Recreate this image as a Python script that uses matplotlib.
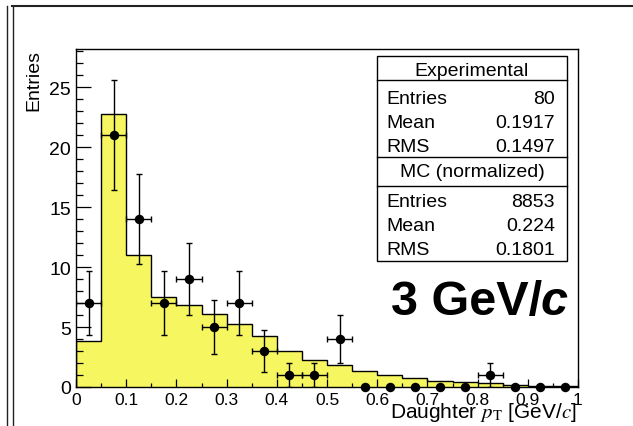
import numpy as np
import matplotlib
matplotlib.use('Agg')
import matplotlib.pyplot as plt
from matplotlib.patches import Rectangle
from matplotlib.lines import Line2D
from matplotlib.ticker import MultipleLocator, FixedLocator

plt.rcParams['font.family'] = ['Liberation Sans', 'DejaVu Sans']
plt.rcParams['mathtext.fontset'] = 'stix'

# ---------------- data ----------------
bin_edges = [0.00, 0.05, 0.10, 0.15, 0.20, 0.25, 0.30, 0.35, 0.40, 0.45, 0.50,
             0.55, 0.60, 0.65, 0.70, 0.75, 0.80, 0.85, 0.90, 0.95, 1.00]
bin_centers = [0.025, 0.075, 0.125, 0.175, 0.225, 0.275, 0.325, 0.375, 0.425, 0.475,
               0.525, 0.575, 0.625, 0.675, 0.725, 0.775, 0.825, 0.875, 0.925, 0.975]
mc_values = [3.85, 22.75, 11.0, 7.5, 6.85, 6.1, 5.25, 4.25, 3.0, 2.25,
             1.8, 1.3, 1.0, 0.72, 0.53, 0.42, 0.3, 0.18, 0.1, 0.06]
data_counts = [7, 21, 14, 7, 9, 5, 7, 3, 1, 1,
               4, 0, 0, 0, 0, 0, 1, 0, 0, 0]

x_tick_values = [0.0, 0.1, 0.2, 0.3, 0.4, 0.5, 0.6, 0.7, 0.8, 0.9, 1.0]
x_tick_labels = ['0', '0.1', '0.2', '0.3', '0.4', '0.5', '0.6', '0.7', '0.8', '0.9', '1']
y_tick_values = [0, 5, 10, 15, 20, 25]
y_tick_labels = ['0', '5', '10', '15', '20', '25']

exp_title = 'Experimental'
exp_stats = [('Entries', '80'), ('Mean', '0.1917'), ('RMS', '0.1497')]
mc_title = 'MC (normalized)'
mc_stats = [('Entries', '8853'), ('Mean', '0.224'), ('RMS', '0.1801')]
energy_label = '3 GeV/'
energy_unit = 'c'

# ---------------- layout helpers ----------------
W, H = 633, 427
def fx(px):
    return px / W
def fy(py):
    return 1 - py / H

fig = plt.figure(figsize=(W / 100, H / 100), dpi=100)
ax = fig.add_axes([fx(76), fy(388), fx(578) - fx(76), fy(50) - fy(388)])

fill_color = '#f6f660'
ax.stairs(mc_values, bin_edges, fill=True, facecolor=fill_color, edgecolor='none', zorder=1)
ax.stairs(mc_values, bin_edges, color='black', linewidth=1.0, zorder=2)

centers = np.array(bin_centers)
counts = np.array(data_counts, dtype=float)
nz = counts > 0
ax.errorbar(centers[nz], counts[nz], xerr=0.025, yerr=np.sqrt(counts[nz]),
            fmt='o', color='black', ms=5.8, elinewidth=1.0, capsize=2.0,
            capthick=1.0, zorder=4)
ax.plot(centers[~nz], counts[~nz], 'o', color='black', ms=5.8, clip_on=False, zorder=5)

ax.set_xlim(0, 1)
ax.set_ylim(0, 28.17)
ax.xaxis.set_major_locator(FixedLocator(x_tick_values))
ax.set_xticklabels(x_tick_labels)
ax.xaxis.set_minor_locator(MultipleLocator(0.05))
ax.yaxis.set_major_locator(FixedLocator(y_tick_values))
ax.set_yticklabels(y_tick_labels)
ax.yaxis.set_minor_locator(MultipleLocator(1))

ax.tick_params(axis='y', which='major', direction='in', length=10.8, width=0.9,
               labelsize=14, pad=3.5, right=False)
ax.tick_params(axis='y', which='minor', direction='in', length=5.3, width=0.9, right=False)
ax.tick_params(axis='x', which='major', direction='in', length=5.8, width=0.9,
               labelsize=12.5, pad=3.5, top=False)
ax.tick_params(axis='x', which='minor', direction='in', length=2.9, width=0.9, top=False)
for s in ax.spines.values():
    s.set_linewidth(1.0)

# axis titles
fig.text(fx(34), fy(50), 'Entries', rotation=90, ha='center', va='top', fontsize=14)
fig.text(fx(577), fy(418), r'Daughter $p_{\mathrm{T}}$ [GeV/$c$]', ha='right',
         va='baseline', fontsize=15)

# stats box
bx0, bx1, by0, by1 = 377, 567, 57, 262
fig.add_artist(Rectangle((fx(bx0), fy(by1)), fx(bx1) - fx(bx0), fy(by0) - fy(by1),
                         transform=fig.transFigure, facecolor='white',
                         edgecolor='black', linewidth=1.0, zorder=10))
for sy in [81, 158, 187]:
    fig.add_artist(Line2D([fx(bx0), fx(bx1)], [fy(sy), fy(sy)], transform=fig.transFigure,
                          color='black', linewidth=1.0, zorder=11))
fs = 14
fig.text(fx((bx0 + bx1) / 2), fy(76), exp_title, ha='center', va='baseline', fontsize=fs, zorder=12)
for (k, v), b in zip(exp_stats, [104, 128, 152]):
    fig.text(fx(386), fy(b), k, ha='left', va='baseline', fontsize=fs, zorder=12)
    fig.text(fx(555), fy(b), v, ha='right', va='baseline', fontsize=fs, zorder=12)
fig.text(fx((bx0 + bx1) / 2), fy(177), mc_title, ha='center', va='baseline', fontsize=fs, zorder=12)
for (k, v), b in zip(mc_stats, [207, 231, 255]):
    fig.text(fx(386), fy(b), k, ha='left', va='baseline', fontsize=fs, zorder=12)
    fig.text(fx(555), fy(b), v, ha='right', va='baseline', fontsize=fs, zorder=12)

# big energy label
t2 = fig.text(fx(568), fy(315), energy_unit, ha='right', va='baseline', fontsize=35,
              fontweight='bold', fontstyle='italic')
fig.canvas.draw()
bb = t2.get_window_extent()
fig.text(bb.x0 / W + 0.002, fy(315), energy_label, ha='right', va='baseline', fontsize=35,
         fontweight='bold')

# pad borders
for x in [6.5, 12.5]:
    fig.add_artist(Line2D([fx(x), fx(x)], [fy(7), fy(427)], transform=fig.transFigure,
                          color='#222222', linewidth=1.0))
fig.add_artist(Line2D([fx(12), fx(633)], [fy(7), fy(7)], transform=fig.transFigure,
                      color='#222222', linewidth=1.5))

fig.savefig('out.png', dpi=100)
